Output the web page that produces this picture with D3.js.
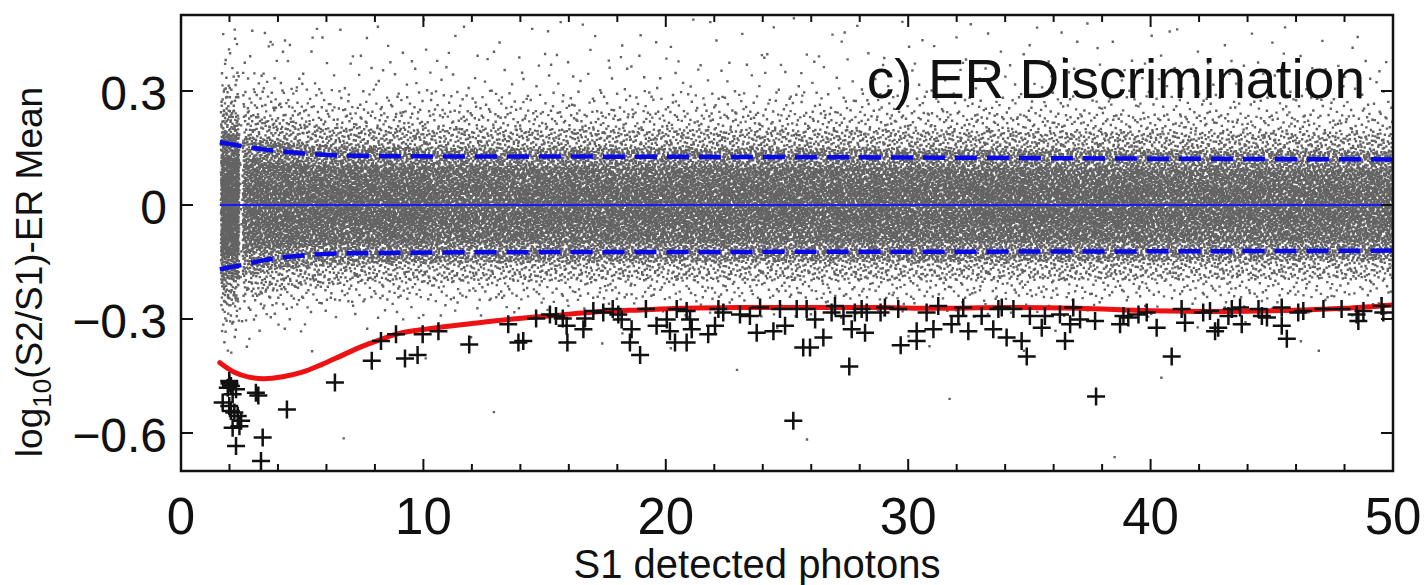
<!DOCTYPE html>
<html>
<head>
<meta charset="utf-8">
<script src="https://cdn.jsdelivr.net/npm/d3@7/dist/d3.min.js"></script>
<style>
  html, body { margin: 0; padding: 0; background: #fff; }
  svg { display: block; font-family: "Liberation Sans", Arial, sans-serif; }
</style>
</head>
<body>
<svg id="chart" width="1426" height="585"></svg>
<script>
// Axis ticks
const xMajorTicks = [0, 10, 20, 30, 40, 50];
const xTickLabels = ['0', '10', '20', '30', '40', '50'];
const xMinorTicks = d3.range(0, 51, 2);
const yMajorTicks = [-0.6, -0.3, 0, 0.3];
const yTickLabels = ['\u22120.6', '\u22120.3', '0', '0.3'];

// Blue dashed band edges
const upperBandX = [1.6, 2.5, 3.3, 4.5, 6.3, 10, 20, 30, 40, 50];
const upperBandY = [0.165, 0.155, 0.147, 0.139, 0.131, 0.128, 0.127, 0.125, 0.122, 0.12];
const lowerBandX = [1.6, 2.5, 3.3, 4.2, 7, 15, 30, 40, 50];
const lowerBandY = [-0.169, -0.158, -0.147, -0.138, -0.127, -0.124, -0.123, -0.122, -0.12];

// Red curve
const redX = [1.6, 2.2, 2.8, 3.4, 4.2, 5.0, 5.8, 6.6, 7.4, 8.2, 9.0, 10.3, 12, 13.7, 15.5, 17.2, 19, 20.6, 23, 26, 29, 31, 34, 37, 40, 43, 46, 48, 50];
const redY = [-0.415, -0.44, -0.453, -0.457, -0.452, -0.44, -0.42, -0.397, -0.374, -0.355, -0.338, -0.325, -0.312, -0.300, -0.29, -0.281, -0.276, -0.272, -0.270, -0.270, -0.270, -0.272, -0.270, -0.272, -0.278, -0.280, -0.277, -0.272, -0.263];

// Black crosses
const crossX = [
  8.25, 8.87, 9.97, 7.87, 9.24, 9.76, 6.35, 4.37, 3.09, 3.19, 3.37, 3.30,
  1.99, 2.06, 1.93, 2.27, 2.13, 1.72, 1.99, 2.06, 2.20, 2.34, 2.48, 2.41, 2.13, 2.27, 2.00,
  10.62, 11.89, 13.50, 13.92, 14.12, 14.65, 15.22, 15.47, 15.75, 15.91, 15.94, 16.67, 16.60,
  17.01, 17.42, 17.81, 18.04, 18.18, 18.59, 18.52, 18.94, 19.18, 19.62, 20.04, 20.17, 20.38, 20.45,
  20.86, 21.00, 21.07, 20.86, 21.75, 22.03, 22.17, 22.37, 23.06, 23.47, 23.75, 23.89, 24.44, 24.71,
  24.92, 25.40, 25.26, 25.67, 25.95, 25.81, 26.16, 26.50, 26.84, 26.98, 27.33, 27.57, 27.67, 27.80,
  28.08, 28.22, 28.29, 28.86, 29.04, 29.59, 29.69, 30.35, 30.35, 30.76,
  31.04, 31.24, 31.79, 32.07, 32.27, 32.48, 33.03, 33.51, 33.72, 33.86, 34.06, 34.34, 34.68, 34.89,
  35.02, 35.51, 35.64, 36.26, 36.47, 36.68, 36.81, 37.09, 37.71, 37.75, 38.74, 38.88, 39.08, 39.50,
  39.84, 40.25, 40.87,
  41.28, 41.42, 42.17, 42.45, 42.66, 42.79, 43.21, 43.35, 43.69, 43.76, 44.45, 44.59, 44.80, 45.41,
  45.41, 45.62, 46.09, 46.30, 47.13, 47.88, 48.50, 48.57, 48.78, 49.53, 49.60
];
const crossY = [
  -0.358, -0.340, -0.340, -0.410, -0.404, -0.395, -0.467, -0.538, -0.494, -0.501, -0.612, -0.674,
  -0.463, -0.476, -0.481, -0.485, -0.498, -0.520, -0.529, -0.542, -0.546, -0.555, -0.568, -0.582, -0.586, -0.634, -0.470,
  -0.332, -0.367, -0.314, -0.362, -0.358, -0.299, -0.288, -0.292, -0.299, -0.318, -0.362, -0.299, -0.327,
  -0.279, -0.283, -0.274, -0.288, -0.301, -0.327, -0.362, -0.395, -0.274, -0.318, -0.301, -0.332, -0.362, -0.274,
  -0.279, -0.301, -0.327, -0.362, -0.340, -0.318, -0.274, -0.283, -0.288, -0.292, -0.336, -0.270, -0.332, -0.274,
  -0.318, -0.274, -0.568, -0.375, -0.375, -0.274, -0.301, -0.349, -0.283, -0.266, -0.292, -0.425, -0.327, -0.283,
  -0.274, -0.336, -0.283, -0.283, -0.270, -0.274, -0.369, -0.332, -0.358, -0.283,
  -0.327, -0.266, -0.314, -0.292, -0.270, -0.332, -0.292, -0.327, -0.274, -0.270, -0.349, -0.274, -0.358, -0.399,
  -0.292, -0.323, -0.292, -0.288, -0.358, -0.314, -0.270, -0.301, -0.305, -0.504, -0.314, -0.292, -0.296, -0.288,
  -0.283, -0.323, -0.399,
  -0.274, -0.310, -0.283, -0.279, -0.332, -0.323, -0.292, -0.274, -0.270, -0.314, -0.274, -0.292, -0.296, -0.270,
  -0.318, -0.352, -0.283, -0.279, -0.274, -0.274, -0.288, -0.305, -0.279, -0.266, -0.283
];

// Gray ER cloud: too many dots to transcribe, so it is described by the
// densities (per unit of S1, and per band of y at the
// reference width of the dashed band) and placed with a Halton sequence.
const cloudCount = 34000;
const cloudXEdges = [1.65, 2.4, 2.55, 5, 10, 20, 30, 40, 50];
const cloudXDensity = [2.2, 0.15, 1.2, 1.08, 1.0, 1.0, 1.0, 0.95];
const cloudYEdges = [-0.70, -0.40, -0.30, -0.25, -0.20, -0.15, -0.10, -0.05, 0, 0.05, 0.10, 0.15, 0.20, 0.25, 0.30, 0.40, 0.50];
const cloudYDensity = [0.01, 0.08, 1.2, 4.5, 13, 30, 48, 55, 55, 48, 30, 15, 6.5, 3, 0.9, 0.35];

const W = 1426, H = 585;
const margin = { top: 15, right: 33, bottom: 114, left: 181 };
const x = d3.scaleLinear().domain([0, 50]).range([margin.left, W - margin.right]);
const y = d3.scaleLinear().domain([-0.7, 0.5]).range([H - margin.bottom, margin.top]);

const svg = d3.select('#chart');

svg.append('defs').append('clipPath').attr('id', 'plot-clip')
  .append('rect')
  .attr('x', x(0)).attr('y', y(0.5))
  .attr('width', x(50) - x(0)).attr('height', y(-0.7) - y(0.5));

const plot = svg.append('g').attr('clip-path', 'url(#plot-clip)');

// --- Gray cloud ---
function halton(i, b) {
  let f = 1, r = 0;
  while (i > 0) { f /= b; r += f * (i % b); i = Math.floor(i / b); }
  return r;
}
function piecewiseInverse(edges, dens) {
  const mass = dens.map((d, j) => d * (edges[j + 1] - edges[j]));
  const total = d3.sum(mass);
  const cum = [0];
  mass.forEach(m => cum.push(cum[cum.length - 1] + m / total));
  return u => {
    let j = d3.bisectRight(cum, u) - 1;
    j = Math.max(0, Math.min(dens.length - 1, j));
    const t = (u - cum[j]) / (cum[j + 1] - cum[j]);
    return edges[j] + t * (edges[j + 1] - edges[j]);
  };
}
const invX = piecewiseInverse(cloudXEdges, cloudXDensity);
const invY = piecewiseInverse(cloudYEdges, cloudYDensity);
const upperAt = d3.scaleLinear().domain(upperBandX).range(upperBandY).clamp(true);
const lowerAt = d3.scaleLinear().domain(lowerBandX).range(lowerBandY).clamp(true);

let dots = '';
const ds = 2.4;
for (let i = 1; i <= cloudCount; i++) {
  const xv = invX(halton(i, 2));
  let yv = invY(halton(i, 3));
  yv = yv >= 0 ? yv * upperAt(xv) / 0.127 : yv * -lowerAt(xv) / 0.124;
  const px = x(xv) - ds / 2, py = y(yv) - ds / 2;
  dots += `M${px.toFixed(1)},${py.toFixed(1)}h${ds}v${ds}h${-ds}z`;
}
plot.append('path').attr('d', dots).attr('fill', '#636363');

// --- Blue lines ---
plot.append('line')
  .attr('x1', x(1.6)).attr('x2', x(50))
  .attr('y1', y(0)).attr('y2', y(0))
  .attr('stroke', '#1a1aff').attr('stroke-width', 1.8);

const bandLine = d3.line().x(d => x(d[0])).y(d => y(d[1])).curve(d3.curveMonotoneX);
[[upperBandX, upperBandY], [lowerBandX, lowerBandY]].forEach(([bx, by]) => {
  plot.append('path')
    .attr('d', bandLine(bx.map((v, i) => [v, by[i]])))
    .attr('fill', 'none')
    .attr('stroke', '#0a0ae6')
    .attr('stroke-width', 4.5)
    .attr('stroke-dasharray', '22,10');
});

// --- Red curve ---
plot.append('path')
  .attr('d', d3.line().x(d => x(d[0])).y(d => y(d[1])).curve(d3.curveCatmullRom)(redX.map((v, i) => [v, redY[i]])))
  .attr('fill', 'none')
  .attr('stroke', '#ee1111')
  .attr('stroke-width', 5)
  .attr('stroke-linecap', 'round');

// --- Crosses ---
const arm = 9;
plot.append('path')
  .attr('d', crossX.map((v, i) => {
    const cx = x(v), cy = y(crossY[i]);
    return `M${cx - arm},${cy}h${2 * arm}M${cx},${cy - arm}v${2 * arm}`;
  }).join(''))
  .attr('fill', 'none')
  .attr('stroke', '#111')
  .attr('stroke-width', 2.5);

// --- Frame and ticks ---
const frame = svg.append('g').attr('stroke', '#111').attr('fill', 'none');
frame.append('rect')
  .attr('x', x(0)).attr('y', y(0.5))
  .attr('width', x(50) - x(0)).attr('height', y(-0.7) - y(0.5))
  .attr('stroke-width', 2.5);

const tickLen = v => (xMajorTicks.includes(v) ? 12 : 7);
xMinorTicks.forEach(v => {
  frame.append('line').attr('x1', x(v)).attr('x2', x(v))
    .attr('y1', y(-0.7)).attr('y2', y(-0.7) - tickLen(v)).attr('stroke-width', 2);
  frame.append('line').attr('x1', x(v)).attr('x2', x(v))
    .attr('y1', y(0.5)).attr('y2', y(0.5) + tickLen(v)).attr('stroke-width', 2);
});
yMajorTicks.forEach(v => {
  frame.append('line').attr('x1', x(0)).attr('x2', x(0) + 12)
    .attr('y1', y(v)).attr('y2', y(v)).attr('stroke-width', 2);
  frame.append('line').attr('x1', x(50)).attr('x2', x(50) - 12)
    .attr('y1', y(v)).attr('y2', y(v)).attr('stroke-width', 2);
});

// --- Tick labels ---
svg.append('g').selectAll('text')
  .data(xMajorTicks)
  .join('text')
  .attr('x', d => x(d))
  .attr('y', 534)
  .attr('text-anchor', 'middle')
  .attr('font-size', 51)
  .attr('fill', '#111')
  .text((d, i) => xTickLabels[i]);

svg.append('g').selectAll('text')
  .data(yMajorTicks)
  .join('text')
  .attr('x', 167)
  .attr('y', d => y(d) + 19)
  .attr('text-anchor', 'end')
  .attr('font-size', 48)
  .attr('fill', '#111')
  .text((d, i) => yTickLabels[i]);

// --- Axis titles ---
svg.append('text')
  .attr('x', 757)
  .attr('y', 578)
  .attr('text-anchor', 'middle')
  .attr('font-size', 40)
  .attr('fill', '#111')
  .text('S1 detected photons');

const yTitle = svg.append('text')
  .attr('transform', `translate(42, ${272}) rotate(-90)`)
  .attr('text-anchor', 'middle')
  .attr('font-size', 37)
  .attr('fill', '#111');
yTitle.append('tspan').text('log');
yTitle.append('tspan').attr('font-size', 26).attr('dy', 9).text('10');
yTitle.append('tspan').attr('dy', -9).text('(S2/S1)-ER Mean');

// --- Panel title ---
svg.append('text')
  .attr('x', 1365)
  .attr('y', 98)
  .attr('text-anchor', 'end')
  .attr('font-size', 55)
  .attr('fill', '#111')
  .text('c) ER Discrimination');
</script>
</body>
</html>
